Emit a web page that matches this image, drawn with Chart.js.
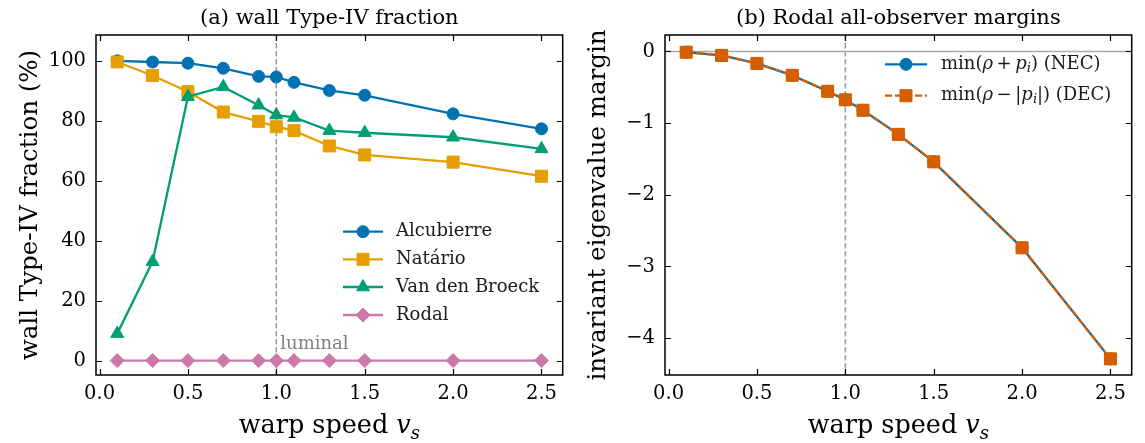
<!DOCTYPE html>
<html>
<head>
<meta charset="utf-8">
<script src="https://cdn.jsdelivr.net/npm/chart.js@4.4.1/dist/chart.umd.min.js"></script>
<style>
html, body { margin: 0; padding: 0; background: #fff; }
#wrap { position: relative; width: 1145px; height: 443px; }
canvas { position: absolute; top: 0; }
</style>
</head>
<body>
<div id="wrap">
  <canvas id="left" width="580" height="443" style="left:0"></canvas>
  <canvas id="right" width="565" height="443" style="left:580px"></canvas>
</div>
<script>
// warp speeds sampled (same grid in both panels)
const speeds = [0.1, 0.3, 0.5, 0.7, 0.9, 1.0, 1.1, 1.3, 1.5, 2.0, 2.5];

// (a) wall Type-IV fraction, percent
const alcubierre = [100, 99.6, 99.2, 97.5, 94.8, 94.6, 92.8, 90.1, 88.5, 82.3, 77.3];
const natario    = [99.6, 95.1, 89.7, 82.9, 79.8, 78.0, 76.7, 71.6, 68.6, 66.2, 61.5];
const vanDenBroeck = [9, 33, 88, 91.3, 85.2, 81.9, 81.1, 76.7, 76.0, 74.5, 70.6];
const rodal      = [0, 0, 0, 0, 0, 0, 0, 0, 0, 0, 0];

// (b) Rodal margins (NEC and DEC lie on top of each other)
const necMargin = [-0.01, -0.055, -0.167, -0.333, -0.556, -0.675, -0.82, -1.157, -1.54, -2.74, -4.29];
const decMargin = [-0.01, -0.055, -0.167, -0.333, -0.556, -0.675, -0.82, -1.157, -1.54, -2.74, -4.29];

// tick labels
const xTicks = [0, 0.5, 1.0, 1.5, 2.0, 2.5];
const fracTicks = [0, 20, 40, 60, 80, 100];
const marginTicks = [0, -1, -2, -3, -4];

const luminal = 1.0;

const FONT = '"DejaVu Serif", serif';
const BLUE = '#0072B2', ORANGE = '#E69F00', GREEN = '#009E73', PINK = '#CC79A7', RED = '#D55E00';

function pts(ys) {
    return speeds.map((x, i) => ({ x: x, y: ys[i] }));
}

function fontOf(s, size) {
    return (s.it ? 'italic ' : '') + (s.sub ? Math.round(size * 0.7) : size) + 'px ' + FONT;
}

// draw a line of text made of pieces (italic / subscript)
function drawRich(ctx, segs, x, y, size, align) {
    let w = 0;
    segs.forEach(s => { ctx.font = fontOf(s, size); w += ctx.measureText(s.t).width; });
    let cx = align === 'center' ? x - w / 2 : x;
    ctx.textAlign = 'left';
    segs.forEach(s => {
        ctx.font = fontOf(s, size);
        ctx.fillText(s.t, cx, y + (s.sub ? size * 0.22 : 0));
        cx += ctx.measureText(s.t).width;
    });
}

function series(label, ys, color, style, radius, order, dash) {
    return {
        label: label,
        data: pts(ys),
        borderColor: color,
        backgroundColor: color,
        borderWidth: 2.3,
        borderDash: dash || [],
        pointStyle: style,
        pointRadius: radius,
        pointBorderWidth: 1,
        pointBorderColor: color,
        pointBackgroundColor: color,
        order: order,
        tension: 0
    };
}

// frame + inward ticks on all four sides
function drawFrame(chart) {
    const ctx = chart.ctx, a = chart.chartArea;
    const xs = chart.scales.x, ys = chart.scales.y;
    ctx.save();
    ctx.strokeStyle = '#000';
    ctx.lineWidth = 1.2;
    ctx.beginPath();
    xs.ticks.forEach(t => {
        const p = Math.round(xs.getPixelForValue(t.value)) + 0.5;
        ctx.moveTo(p, a.bottom); ctx.lineTo(p, a.bottom - 6);
        ctx.moveTo(p, a.top); ctx.lineTo(p, a.top + 6);
    });
    ys.ticks.forEach(t => {
        const p = Math.round(ys.getPixelForValue(t.value)) + 0.5;
        ctx.moveTo(a.left, p); ctx.lineTo(a.left + 6, p);
        ctx.moveTo(a.right, p); ctx.lineTo(a.right - 6, p);
    });
    ctx.stroke();
    ctx.lineWidth = 1.5;
    ctx.strokeRect(a.left, a.top, a.right - a.left, a.bottom - a.top);
    ctx.restore();
}

function drawLegend(chart, items, lx, tx, rows, size) {
    const ctx = chart.ctx;
    ctx.save();
    items.forEach((it, i) => {
        const y = rows[i];
        ctx.strokeStyle = it.color;
        ctx.fillStyle = it.color;
        ctx.lineWidth = 2.3;
        ctx.setLineDash(it.dash || []);
        ctx.beginPath();
        ctx.moveTo(lx[0], y); ctx.lineTo(lx[1], y);
        ctx.stroke();
        ctx.setLineDash([]);
        ctx.lineWidth = 1;
        Chart.helpers.drawPoint(ctx, { pointStyle: it.style, rotation: 0, radius: it.radius, borderWidth: 1 }, (lx[0] + lx[1]) / 2, y);
        ctx.fillStyle = '#1a1a1a';
        ctx.textBaseline = 'middle';
        drawRich(ctx, it.text, tx, y, size, 'left');
    });
    ctx.restore();
}

function drawLabels(chart, title, xlabel, ylabel, ylabelX) {
    const ctx = chart.ctx, a = chart.chartArea;
    const cx = (a.left + a.right) / 2, cy = (a.top + a.bottom) / 2;
    ctx.save();
    ctx.fillStyle = '#000';
    ctx.textBaseline = 'alphabetic';
    drawRich(ctx, [{ t: title }], cx, 24, 21, 'center');
    drawRich(ctx, xlabel, cx, 433, 25.5, 'center');
    ctx.translate(ylabelX, cy);
    ctx.rotate(-Math.PI / 2);
    drawRich(ctx, [{ t: ylabel }], 0, 0, 24.5, 'center');
    ctx.restore();
}

const warpLabel = [{ t: 'warp speed ' }, { t: 'v', it: true }, { t: 's', it: true, sub: true }];

function baseOptions(yMin, yMax, yTicks, yWidth, padRight, yFmt) {
    return {
        responsive: false,
        animation: false,
        devicePixelRatio: 1,
        layout: { padding: { top: 35, right: padRight, left: 0, bottom: 0 } },
        plugins: { legend: { display: false }, tooltip: { enabled: false } },
        scales: {
            x: {
                type: 'linear',
                min: -0.02, max: 2.62,
                grid: { display: false, drawTicks: false },
                border: { display: false },
                afterBuildTicks: s => { s.ticks = xTicks.map(v => ({ value: v })); },
                afterFit: s => { s.height = 68; },
                ticks: {
                    padding: 7,
                    color: '#000',
                    font: { family: FONT, size: 19.5 },
                    callback: v => v.toFixed(1)
                }
            },
            y: {
                type: 'linear',
                min: yMin, max: yMax,
                grid: { display: false, drawTicks: false },
                border: { display: false },
                afterBuildTicks: s => { s.ticks = yTicks.map(v => ({ value: v })); },
                afterFit: s => { s.width = yWidth; },
                ticks: {
                    padding: 10,
                    color: '#000',
                    font: { family: FONT, size: 19.5 },
                    callback: yFmt
                }
            }
        }
    };
}

// ---------- (a) ----------
const leftPlugin = {
    id: 'leftDeco',
    beforeDatasetsDraw(chart) {
        const ctx = chart.ctx, a = chart.chartArea;
        const px = chart.scales.x.getPixelForValue(luminal);
        ctx.save();
        ctx.strokeStyle = '#999';
        ctx.lineWidth = 1.5;
        ctx.setLineDash([5.5, 2.5]);
        ctx.beginPath();
        ctx.moveTo(px, a.top); ctx.lineTo(px, a.bottom);
        ctx.stroke();
        ctx.restore();
    },
    afterDraw(chart) {
        const ctx = chart.ctx;
        drawFrame(chart);
        ctx.save();
        ctx.fillStyle = '#7f7f7f';
        ctx.font = '18px ' + FONT;
        ctx.textBaseline = 'alphabetic';
        ctx.textAlign = 'left';
        ctx.fillText('luminal', chart.scales.x.getPixelForValue(luminal) + 4, chart.scales.y.getPixelForValue(0) - 12);
        ctx.restore();
        drawLegend(chart, [
            { color: BLUE, style: 'circle', radius: 6, text: [{ t: 'Alcubierre' }] },
            { color: ORANGE, style: 'rect', radius: 8.5, text: [{ t: 'Natário' }] },
            { color: GREEN, style: 'triangle', radius: 7.5, text: [{ t: 'Van den Broeck' }] },
            { color: PINK, style: 'rectRot', radius: 7, text: [{ t: 'Rodal' }] }
        ], [343, 383], 396, [231.7, 259.3, 287, 315], 18);
        drawLabels(chart, '(a) wall Type-IV fraction', warpLabel, 'wall Type-IV fraction (%)', 37);
    }
};

new Chart(document.getElementById('left'), {
    type: 'line',
    data: {
        datasets: [
            series('Alcubierre', alcubierre, BLUE, 'circle', 6, 4),
            series('Natário', natario, ORANGE, 'rect', 8.5, 3),
            series('Van den Broeck', vanDenBroeck, GREEN, 'triangle', 7.5, 2),
            series('Rodal', rodal, PINK, 'rectRot', 7, 1)
        ]
    },
    options: baseOptions(-4.8, 108.6, fracTicks, 96, 17.3, v => String(v)),
    plugins: [leftPlugin]
});

// ---------- (b) ----------
const rightPlugin = {
    id: 'rightDeco',
    beforeDatasetsDraw(chart) {
        const ctx = chart.ctx, a = chart.chartArea;
        const px = chart.scales.x.getPixelForValue(luminal);
        const py = chart.scales.y.getPixelForValue(0);
        ctx.save();
        ctx.strokeStyle = '#aaa';
        ctx.lineWidth = 1.5;
        ctx.beginPath();
        ctx.moveTo(a.left, py); ctx.lineTo(a.right, py);
        ctx.stroke();
        ctx.strokeStyle = '#999';
        ctx.setLineDash([5.5, 2.5]);
        ctx.beginPath();
        ctx.moveTo(px, a.top); ctx.lineTo(px, a.bottom);
        ctx.stroke();
        ctx.restore();
    },
    afterDraw(chart) {
        drawFrame(chart);
        drawLegend(chart, [
            { color: BLUE, style: 'circle', radius: 6, text: [
                { t: 'min(' }, { t: 'ρ', it: true }, { t: '\u2009+\u2009' }, { t: 'p', it: true }, { t: 'i', it: true, sub: true }, { t: ') (NEC)' }] },
            { color: RED, style: 'rect', radius: 8.5, dash: [7, 3], text: [
                { t: 'min(' }, { t: 'ρ', it: true }, { t: '\u2009−\u2009|' }, { t: 'p', it: true }, { t: 'i', it: true, sub: true }, { t: '|) (DEC)' }] }
        ], [305, 347], 361, [64.3, 95.7], 18);
        drawLabels(chart, '(b) Rodal all-observer margins', warpLabel, 'invariant eigenvalue margin', 25);
    }
};

new Chart(document.getElementById('right'), {
    type: 'line',
    data: {
        datasets: [
            series('min(ρ + p_i) (NEC)', necMargin, BLUE, 'circle', 6, 2),
            series('min(ρ − |p_i|) (DEC)', decMargin, RED, 'rect', 8.5, 1, [7, 3])
        ]
    },
    options: baseOptions(-4.515, 0.23, marginTicks, 85, 13.3, v => v < 0 ? '−' + Math.abs(v) : String(v)),
    plugins: [rightPlugin]
});
</script>
</body>
</html>
